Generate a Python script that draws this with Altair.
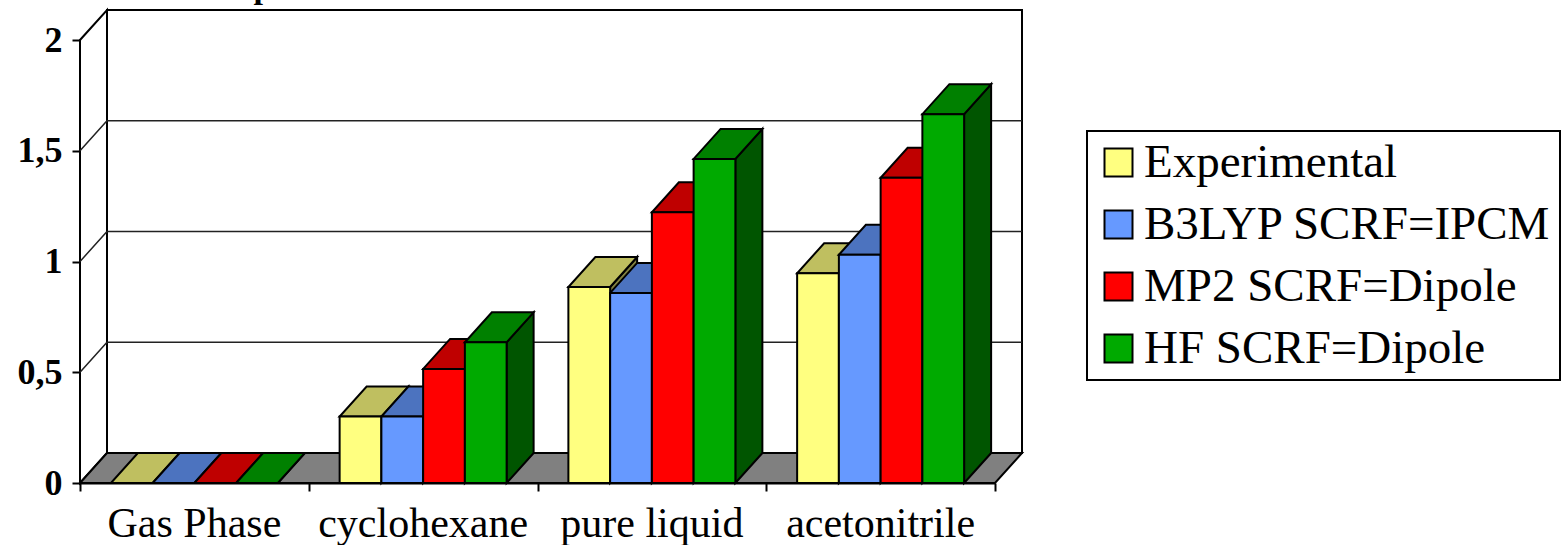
import altair as alt
import pandas as pd

# ---------------- data ----------------
categories = ["Gas Phase", "cyclohexane", "pure liquid", "acetonitrile"]
series = ["Experimental", "B3LYP SCRF=IPCM", "MP2 SCRF=Dipole", "HF SCRF=Dipole"]
experimental = [0.0, 0.30, 0.885, 0.947]
b3lyp = [0.0, 0.30, 0.858, 1.03]
mp2 = [0.0, 0.515, 1.222, 1.378]
hf = [0.0, 0.635, 1.463, 1.665]
y_ticks = [0, 0.5, 1, 1.5, 2]
title_fragment = ["p"]

front_colors = ["#FFFF80", "#6699FF", "#FF0000", "#00AA00"]
top_colors = ["#BFBF60", "#4C73BF", "#BF0000", "#008000"]
side_colors = ["#808040", "#334C80", "#800000", "#005500"]

values = [experimental, b3lyp, mp2, hf]

# ---------------- layout ----------------
W_PX, H_PX = 915, 443
X_MAX, Y_MAX = len(categories), 2
DX = 27 / (W_PX / X_MAX)   # depth offset in x units
DY = 30 / (H_PX / Y_MAX)   # depth offset in y units
GAP = 0.135
BW = (1 - 2 * GAP) / len(series)

fronts, tops, sides = [], [], []
for g in range(len(categories)):
    for s in range(len(series)):
        v = values[s][g]
        x0 = g + GAP + s * BW
        x1 = x0 + BW
        bid = f"b{g}{s}"
        fronts.append({"id": bid, "series": series[s], "x": x0, "x2": x1, "y": 0.0, "y2": v})
        for xx, yy, yy2 in [(x0, v, v), (x0 + DX, v, v + DY), (x1, v, v + DY), (x1 + DX, v + DY, v + DY)]:
            tops.append({"id": bid, "x": xx, "y": yy, "y2": yy2, "fill": top_colors[s]})
        for xx, yy, yy2 in [(x1, 0.0, v), (x1 + DX, DY, v + DY)]:
            sides.append({"id": bid, "x": xx, "y": yy, "y2": yy2, "fill": side_colors[s]})

fronts = pd.DataFrame(fronts)
tops = pd.DataFrame(tops)
sides = pd.DataFrame(sides)

back_wall = pd.DataFrame({"x": [DX], "x2": [X_MAX + DX], "y": [DY], "y2": [Y_MAX + DY]})
left_wall = pd.DataFrame({"x": [0, DX], "y": [0, DY], "y2": [Y_MAX, Y_MAX + DY]})
floor = pd.DataFrame({"x": [0, DX, X_MAX, X_MAX + DX], "y": [0, 0, 0, DY], "y2": [0, DY, DY, DY]})
grid_rows = []
for v in y_ticks[1:-1]:
    for xx, yy in [(0, v), (DX, v + DY), (X_MAX + DX, v + DY)]:
        grid_rows.append({"g": str(v), "x": xx, "y": yy})
grid = pd.DataFrame(grid_rows)

xlabels = pd.DataFrame({"x": [i + 0.5 for i in range(len(categories))],
                        "y": [-0.245] * len(categories), "label": categories})
title_df = pd.DataFrame({"x": [0.8], "y": [2.19], "label": title_fragment})

# ---------------- scales & axes ----------------
xs = alt.Scale(domain=[0, X_MAX], nice=False, zero=False)
ys = alt.Scale(domain=[0, Y_MAX], nice=False, zero=False)
xaxis = alt.Axis(values=list(range(X_MAX + 1)), labels=False, title=None, grid=False,
                 tickSize=8, tickColor="black", tickWidth=2, domainColor="black", domainWidth=2)
yaxis = alt.Axis(values=y_ticks, title=None, grid=False, tickSize=8, tickColor="black", tickWidth=2,
                 domainColor="black", domainWidth=2,
                 labelExpr="replace(toString(datum.value), '.', ',')",
                 labelFont="Liberation Serif", labelFontWeight="bold", labelFontSize=36,
                 labelColor="black", labelPadding=10)

X = alt.X("x:Q", scale=xs, axis=xaxis)
Y = alt.Y("y:Q", scale=ys, axis=yaxis, stack=None)

back = alt.Chart(back_wall).mark_rect(fill="white", stroke="black", strokeWidth=2).encode(
    x=X, x2="x2:Q", y=Y, y2="y2:Q")
left = alt.Chart(left_wall).mark_area(fill="white", stroke="black", strokeWidth=2).encode(
    x=X, y=Y, y2="y2:Q")
grid_l = alt.Chart(grid).mark_line(stroke="#222222", strokeWidth=1.5).encode(
    x=X, y=Y, detail="g:N")
floor_l = alt.Chart(floor).mark_area(fill="#808080", stroke="black", strokeWidth=2).encode(
    x=X, y=Y, y2="y2:Q")
sides_l = alt.Chart(sides).mark_area(stroke="black", strokeWidth=2, strokeJoin="miter").encode(
    x=X, y=Y, y2="y2:Q", detail="id:N", fill=alt.Fill("fill:N", scale=None))
tops_l = alt.Chart(tops).mark_area(stroke="black", strokeWidth=2, strokeJoin="miter").encode(
    x=X, y=Y, y2="y2:Q", detail="id:N", fill=alt.Fill("fill:N", scale=None))
fronts_l = alt.Chart(fronts).mark_rect(stroke="black", strokeWidth=2, opacity=1).encode(
    x=X, x2="x2:Q", y=Y, y2="y2:Q",
    color=alt.Color("series:N", scale=alt.Scale(domain=series, range=front_colors),
                    legend=alt.Legend(title=None, orient="none", legendX=1007, legendY=91,
                                      strokeColor="black", padding=8,
                                      symbolType="square", symbolSize=784,
                                      symbolStrokeColor="black", symbolStrokeWidth=2,
                                      symbolOpacity=1, symbolOffset=0,
                                      labelFont="Liberation Serif", labelFontSize=47,
                                      labelColor="black", labelLimit=1000, labelOffset=2,
                                      rowPadding=14)))
xlab = alt.Chart(xlabels).mark_text(font="Liberation Serif", fontSize=42, color="black",
                                    baseline="alphabetic", align="center").encode(
    x=X, y=Y, text="label:N")
title_l = alt.Chart(title_df).mark_text(font="Liberation Serif", fontSize=34, fontWeight="bold",
                                        color="black", baseline="alphabetic", align="center").encode(
    x=X, y=Y, text="label:N")

chart = alt.layer(back, left, grid_l, floor_l, sides_l, tops_l, fronts_l, xlab, title_l).properties(
    width=W_PX, height=H_PX,
    padding={"left": 80, "top": 40, "right": 568, "bottom": 62},
    autosize=alt.AutoSizeParams(type="none"),
    background="white",
).configure_view(stroke=None).configure_legend(strokeWidth=2)

chart.save("out.html", embed_options={"renderer": "svg", "actions": False})
